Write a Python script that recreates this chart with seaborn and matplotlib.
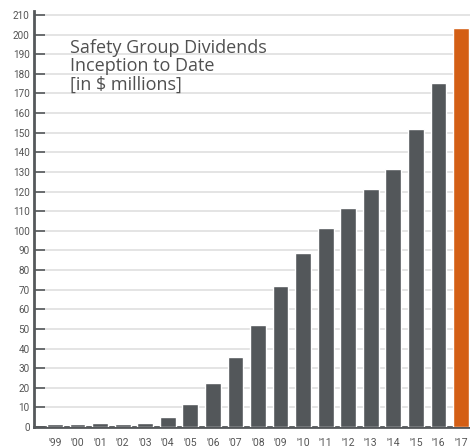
import matplotlib
matplotlib.use("Agg")
import matplotlib.pyplot as plt
import seaborn as sns
import pandas as pd

# DATA
years = ["'99", "'00", "'01", "'02", "'03", "'04", "'05", "'06", "'07", "'08",
         "'09", "'10", "'11", "'12", "'13", "'14", "'15", "'16", "'17"]
dividends = [1.4, 1.5, 1.9, 1.4, 1.9, 4.9, 11.6, 22.2, 35.8, 52.2,
             71.8, 88.6, 101.3, 111.8, 121.2, 131.5, 151.8, 175.4, 203.4]
bar_colors = ["#53575a"] * 18 + ["#d45f15"]

df = pd.DataFrame({"year": years, "dividends": dividends})

# STYLE
sns.set_style("white")
plt.rcParams['font.family'] = ['Roboto', 'DejaVu Sans']

fig = plt.figure(figsize=(4.7, 4.48), dpi=100)
ax = fig.add_axes([34 / 470, 21 / 448, 436 / 470, 416 / 448])

sns.barplot(data=df, x="year", y="dividends", hue="year", palette=bar_colors,
            width=0.7, saturation=1, legend=False, ax=ax, zorder=3)

ax.set_ylim(0, 212)
ax.set_xlim(-0.93, 18.4)
ax.set_yticks(range(0, 211, 10))
ax.yaxis.grid(True, color="#e2e2e2", lw=1.3, zorder=0)
ax.set_axisbelow(True)

for s in ["top", "right"]:
    ax.spines[s].set_visible(False)
ax.spines["left"].set_color("#55585b")
ax.spines["left"].set_linewidth(2)
ax.spines["bottom"].set_color("#55585b")
ax.spines["bottom"].set_linewidth(2)

ax.tick_params(axis="y", direction="in", length=8, width=1.2, color="#55585b",
               labelsize=7.2, labelcolor="#555555", pad=3, left=True)
ax.tick_params(axis="x", length=0, labelsize=7.5, labelcolor="#555555", pad=8)
ax.set_xlabel("")
ax.set_ylabel("")

ax.text(0.083, 0.932, "Safety Group Dividends\nInception to Date\n[in $ millions]",
        transform=ax.transAxes, ha="left", va="top", fontsize=13,
        color="#505050", family=["Open Sans", "DejaVu Sans"],
        linespacing=1.0)

fig.savefig("out.png", dpi=100)
